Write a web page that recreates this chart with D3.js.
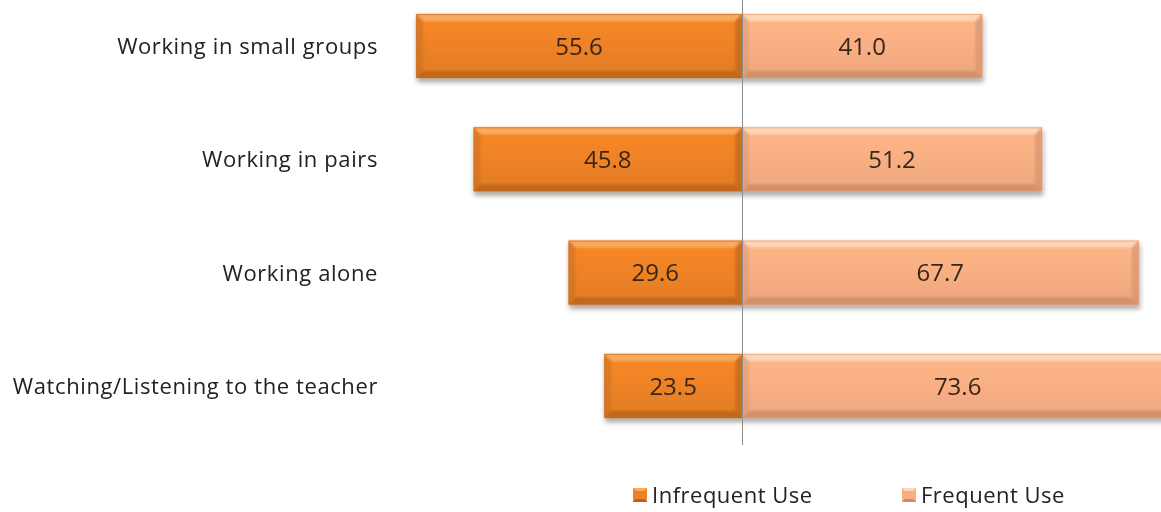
<!DOCTYPE html>
<html>
<head>
<meta charset="utf-8">
<script src="https://cdn.jsdelivr.net/npm/d3@7"></script>
<style>
  html, body { margin: 0; padding: 0; background: #fff; }
  svg { display: block; }
  text { font-family: "Open Sans", Lato, sans-serif; }
</style>
</head>
<body>
<svg id="chart" width="1161" height="512"></svg>
<script>
// Classroom activity use, split into infrequent (left) and frequent (right)
const categories = [
  "Working in small groups",
  "Working in pairs",
  "Working alone",
  "Watching/Listening to the teacher"
];
const infrequentUse = [55.6, 45.8, 29.6, 23.5];
const frequentUse   = [41.0, 51.2, 67.7, 73.6];
const seriesNames = ["Infrequent Use", "Frequent Use"];

const W = 1161, H = 512;
const svg = d3.select("#chart");

const centerX = 742;
const x = d3.scaleLinear().domain([0, 100]).range([centerX, centerX + 586]);
const y = d3.scaleBand().domain(categories).range([-35.3, 467.2]).padding(0.435);

const palette = {
  dark:  { base: "#EC8126", top: "#F9AC62", bottom: "#9E5416", side: "#C26A1E", edge: "#B8631C" },
  light: { base: "#F9AD82", top: "#FDD8BA", bottom: "#B57A58", side: "#D69470", edge: "#D8946C" }
};

const defs = svg.append("defs");
const shadow = defs.append("filter").attr("id", "shadow")
  .attr("x", "-5%").attr("y", "-20%").attr("width", "110%").attr("height", "160%");
shadow.append("feGaussianBlur").attr("in", "SourceAlpha").attr("stdDeviation", 2.5).attr("result", "b");
shadow.append("feOffset").attr("dx", 1).attr("dy", 4).attr("result", "o");
shadow.append("feComponentTransfer").append("feFuncA").attr("type", "linear").attr("slope", 0.35);
const merge = shadow.append("feMerge");
merge.append("feMergeNode");
merge.append("feMergeNode").attr("in", "SourceGraphic");

const soft = defs.append("filter").attr("id", "soft");
soft.append("feGaussianBlur").attr("stdDeviation", 1.2);

Object.entries(palette).forEach(([k, c]) => {
  const g = defs.append("linearGradient").attr("id", "grad-" + k)
    .attr("x1", 0).attr("y1", 0).attr("x2", 0).attr("y2", 1);
  g.append("stop").attr("offset", "0%").attr("stop-color", d3.color(c.base).brighter(0.15));
  g.append("stop").attr("offset", "100%").attr("stop-color", d3.color(c.base).darker(0.12));
});

// Bevelled bar: flat face plus four sloped edges
function bevelBar(g, x0, x1, y0, h, c, key) {
  const b = 7;
  const grp = g.append("g").attr("filter", "url(#shadow)");
  grp.append("rect").attr("x", x0).attr("y", y0).attr("width", x1 - x0).attr("height", h)
    .attr("fill", `url(#grad-${key})`);
  const y1 = y0 + h;
  const edges = grp.append("g").attr("filter", "url(#soft)");
  const poly = (pts, fill, op) => edges.append("polygon")
    .attr("points", pts.map(p => p.join(",")).join(" ")).attr("fill", fill).attr("opacity", op);
  poly([[x0, y0], [x1, y0], [x1 - b, y0 + b], [x0 + b, y0 + b]], c.top, 0.95);
  poly([[x0, y1], [x1, y1], [x1 - b, y1 - b], [x0 + b, y1 - b]], c.bottom, 0.5);
  poly([[x0, y0], [x0 + b, y0 + b], [x0 + b, y1 - b], [x0, y1]], c.side, 0.45);
  poly([[x1, y0], [x1 - b, y0 + b], [x1 - b, y1 - b], [x1, y1]], c.side, 0.7);
  grp.append("rect").attr("x", x0 + 0.5).attr("y", y0 + 0.5).attr("width", x1 - x0 - 1).attr("height", h - 1)
    .attr("fill", "none").attr("stroke", c.edge).attr("stroke-width", 1).attr("opacity", 0.5);
}

const bars = svg.append("g");
categories.forEach((cat, i) => {
  const y0 = y(cat), h = y.bandwidth();
  bevelBar(bars, x(-infrequentUse[i]), x(0), y0, h, palette.dark, "dark");
  bevelBar(bars, x(0), x(frequentUse[i]), y0, h, palette.light, "light");
});

// Centre axis line
svg.append("line")
  .attr("x1", x(0) + 0.5).attr("x2", x(0) + 0.5)
  .attr("y1", 0).attr("y2", 445)
  .attr("stroke", "#8c8c8c").attr("stroke-width", 1);

// Value labels
const labels = svg.append("g").attr("font-size", 24).attr("fill", "#3a2616").attr("text-anchor", "middle");
categories.forEach((cat, i) => {
  const cy = y(cat) + y.bandwidth() / 2;
  labels.append("text").attr("x", (x(-infrequentUse[i]) + x(0)) / 2).attr("y", cy)
    .attr("dy", "0.36em").text(infrequentUse[i].toFixed(1));
  labels.append("text").attr("x", (x(0) + x(frequentUse[i])) / 2).attr("y", cy)
    .attr("dy", "0.36em").text(frequentUse[i].toFixed(1));
});

// Category labels
svg.append("g").attr("font-size", 22).attr("letter-spacing", 0.6).attr("fill", "#222").attr("text-anchor", "end")
  .selectAll("text").data(categories).join("text")
  .attr("x", 378)
  .attr("y", d => y(d) + y.bandwidth() / 2)
  .attr("dy", "0.36em")
  .text(d => d);

// Legend
const legend = svg.append("g").attr("font-size", 22).attr("letter-spacing", 0.5).attr("fill", "#222");
const legendItems = [
  { name: seriesNames[0], c: palette.dark, x: 633 },
  { name: seriesNames[1], c: palette.light, x: 902 }
];
legendItems.forEach(it => {
  const s = 14, sy = 488;
  legend.append("rect").attr("x", it.x).attr("y", sy).attr("width", s).attr("height", s).attr("fill", it.c.base);
  legend.append("polygon").attr("points", `${it.x},${sy} ${it.x + s},${sy} ${it.x + s - 3},${sy + 3} ${it.x + 3},${sy + 3}`)
    .attr("fill", it.c.top);
  legend.append("polygon").attr("points", `${it.x},${sy + s} ${it.x + s},${sy + s} ${it.x + s - 3},${sy + s - 3} ${it.x + 3},${sy + s - 3}`)
    .attr("fill", it.c.bottom).attr("opacity", 0.7);
  legend.append("text").attr("x", it.x + 19).attr("y", sy + s / 2).attr("dy", "0.36em").text(it.name);
});
</script>
</body>
</html>
